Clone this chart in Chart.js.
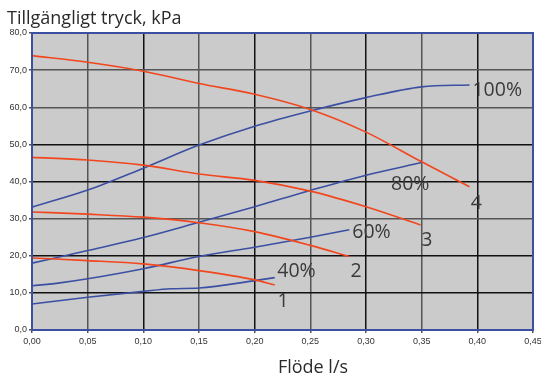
<!DOCTYPE html>
<html><head><meta charset="utf-8">
<script src="https://cdn.jsdelivr.net/npm/chart.js@4/dist/chart.umd.min.js"></script>
<style>html,body{margin:0;padding:0;background:#fff}#w{width:541px;height:376px;position:relative}</style>
</head><body><div id="w"><canvas id="c"></canvas></div>
<script>
// Pump curves (red) 1..4
const pump1Flow=[0,0.05,0.10,0.15,0.20,0.218];
const pump1=[19.4,18.7,17.8,16.0,13.5,12.1];
const pump2Flow=[0,0.05,0.10,0.15,0.20,0.25,0.285];
const pump2=[31.8,31.2,30.4,28.9,26.5,22.8,19.8];
const pump3Flow=[0,0.05,0.10,0.15,0.20,0.25,0.30,0.349];
const pump3=[46.5,45.8,44.4,42.0,40.3,37.4,33.2,28.3];
const pump4Flow=[0,0.05,0.10,0.15,0.20,0.25,0.30,0.35,0.393];
const pump4=[73.9,72.1,69.7,66.4,63.5,59.4,53.3,45.3,38.6];
// System curves (blue) 40..100 %
const sys40Flow=[0,0.05,0.10,0.125,0.15,0.20,0.218];
const sys40=[7.0,8.8,10.4,11.1,11.3,13.3,14.1];
const sys60Flow=[0,0.025,0.05,0.10,0.15,0.20,0.25,0.285];
const sys60=[11.9,12.7,13.8,16.5,19.8,22.3,25.0,27.0];
const sys80Flow=[0,0.05,0.10,0.15,0.20,0.25,0.30,0.35];
const sys80=[18.0,21.4,24.9,29.0,33.2,37.6,41.7,45.1];
const sys100Flow=[0,0.05,0.10,0.15,0.20,0.25,0.30,0.35,0.393];
const sys100=[33.1,37.7,43.6,49.8,54.9,59.0,62.6,65.5,66.0];
// Curve labels
const curveLabels=['100%','80%','60%','40%','1','2','3','4'];
const labelFlow=[0.3956,0.3225,0.2877,0.2203,0.2205,0.286,0.3497,0.394];
const labelPressure=[64.5,39.3,26.2,15.9,7.6,15.8,24.0,34.2];
// Ticks
const xTicks=[0,0.05,0.10,0.15,0.20,0.25,0.30,0.35,0.40,0.45];
const yTicks=[0,10,20,30,40,50,60,70,80];
const titleText='Tillgängligt tryck, kPa';
const xTitleText='Flöde l/s';

const RED='#f2461e', BLUE='#3b4fa3';
function pts(xs,ys){return xs.map((x,i)=>({x:x,y:ys[i]}));}
function ds(xs,ys,c){return {data:pts(xs,ys),borderColor:c,backgroundColor:c,borderWidth:1.6,pointRadius:0,showLine:true,fill:false,cubicInterpolationMode:'monotone'};}

const gridX=['#111','#555','#111','#555','#111','#555','#111','#555','#111','#555'];
const gridY=['#111','#111','#111','#555','#111','#111','#555','#555','#111'];

const bgPlugin={id:'bg',beforeDraw(ch){const a=ch.chartArea,c=ch.ctx;c.save();c.fillStyle='#cbcbcb';c.fillRect(a.left,a.top,a.right-a.left,a.bottom-a.top);c.restore();},
afterDraw(ch){const a=ch.chartArea,c=ch.ctx,xs=ch.scales.x,ys=ch.scales.y;c.save();
c.strokeStyle=BLUE;c.lineWidth=2;c.strokeRect(a.left,a.top,a.right-a.left,a.bottom-a.top);
c.fillStyle='#3a3a3a';c.textBaseline='middle';c.textAlign='left';c.font='19.5px "Open Sans"';
curveLabels.forEach((t,i)=>{c.fillText(t,xs.getPixelForValue(labelFlow[i]),ys.getPixelForValue(labelPressure[i]));});
c.fillStyle='#2a2a2a';c.font='18px "Open Sans"';c.fillText(titleText,7,19);
c.textAlign='center';c.fillText(xTitleText,313,368);
c.restore();}};

new Chart(document.getElementById('c'),{type:'scatter',
data:{datasets:[ds(pump1Flow,pump1,RED),ds(pump2Flow,pump2,RED),ds(pump3Flow,pump3,RED),ds(pump4Flow,pump4,RED),
ds(sys40Flow,sys40,BLUE),ds(sys60Flow,sys60,BLUE),ds(sys80Flow,sys80,BLUE),ds(sys100Flow,sys100,BLUE)]},
options:{responsive:true,maintainAspectRatio:false,animation:false,devicePixelRatio:1,
layout:{padding:{top:33,right:8,left:0,bottom:0}},
plugins:{legend:{display:false},tooltip:{enabled:false}},
scales:{
x:{type:'linear',min:0,max:0.45,afterBuildTicks(s){s.ticks=xTicks.map(v=>({value:v}));},
afterFit(s){s.height=46;s.paddingRight=0;s.paddingLeft=0;},
ticks:{autoSkip:false,maxRotation:0,color:'#333',font:{family:'"Liberation Sans", Arial',size:9},padding:3,callback:v=>v.toFixed(2).replace('.',',')},
grid:{color:c=>gridX[c.index]||'#111',lineWidth:1.5,tickLength:3,tickColor:'#555'},
border:{color:BLUE,width:2}},
y:{min:0,max:80,afterBuildTicks(s){s.ticks=yTicks.map(v=>({value:v}));},
afterFit(s){s.width=32;},
ticks:{color:'#333',font:{family:'"Liberation Sans", Arial',size:9},padding:2,callback:v=>v.toFixed(1).replace('.',',')},
grid:{color:c=>gridY[c.index]||'#111',lineWidth:1.5,tickLength:3,tickColor:'#555'},
border:{color:BLUE,width:2}}}},
plugins:[bgPlugin]});
</script></body></html>
